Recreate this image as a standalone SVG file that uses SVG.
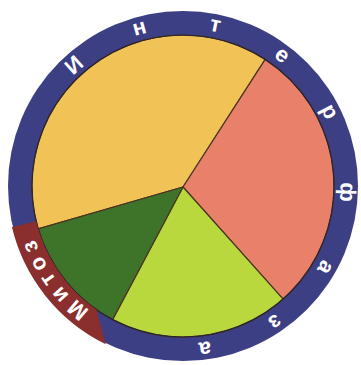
<svg xmlns="http://www.w3.org/2000/svg" width="361" height="365" viewBox="0 0 361 365">
  <style>
    .ring { fill: #3d3f84; }
    .sector { stroke: #4a3522; stroke-width: 1.2; stroke-linejoin: round; }
    .yellow { fill: #f1c255; }
    .salmon { fill: #e9806a; }
    .lgreen { fill: #b8d83e; }
    .dgreen { fill: #3e7429; }
    .band { fill: #8b2e2e; }
    .lt { font-family: "Liberation Sans", Arial, sans-serif; font-weight: bold; font-size: 22px; fill: #ffffff; text-anchor: middle; }
  </style>
  <rect x="0" y="0" width="361" height="365" fill="#ffffff"/>

  <g id="ring">
    <circle class="ring" cx="183" cy="186" r="175"/>
  </g>

  <g id="pie">
    <g id="sector-yellow">
      <path class="sector yellow" d="M 183 187 L 38.2 228.9 A 151 151 0 0 1 265.2 59.4 Z"/>
    </g>
    <g id="sector-salmon">
      <path class="sector salmon" d="M 183 187 L 265.2 59.4 A 151 151 0 0 1 283.1 299.1 Z"/>
    </g>
    <g id="sector-lightgreen">
      <path class="sector lgreen" d="M 183 187 L 283.1 299.1 A 151 151 0 0 1 112.6 319.6 Z"/>
    </g>
    <g id="sector-darkgreen">
      <path class="sector dgreen" d="M 183 187 L 112.6 319.6 A 151 151 0 0 1 38.2 228.9 Z"/>
    </g>
    <circle cx="183" cy="186" r="151" fill="none" stroke="#2a2530" stroke-width="1.2"/>
  </g>

  <g id="mitoz-band">
    <path class="band" d="M 11.9 227.1 A 176 176 0 0 0 105.8 344.2 L 96.4 309.7 A 151 151 0 0 1 36.2 221.2 Z"/>
    <g class="lt">
      <text transform="translate(183,186) rotate(220.3) translate(0,-155.5)">М</text>
      <text transform="translate(183,186) rotate(228.5) translate(0,-157.5)">и</text>
      <text transform="translate(183,186) rotate(235.3) translate(0,-157.5)">т</text>
      <text transform="translate(183,186) rotate(241.6) translate(0,-157.5)">о</text>
      <text transform="translate(183,186) rotate(248.3) translate(0,-157.5)">з</text>
    </g>
  </g>

  <g id="interfaza-label" class="lt">
    <text transform="translate(183,186) rotate(-42) translate(0,-155.5)">И</text>
    <text transform="translate(183,186) rotate(-15.4) translate(0,-157.5)">н</text>
    <text transform="translate(183,186) rotate(11.4) translate(0,-157.5)">т</text>
    <text transform="translate(183,186) rotate(37.2) translate(0,-157.5)">е</text>
    <text transform="translate(183,186) rotate(63.1) translate(0,-157.5)">р</text>
    <text transform="translate(183,186) rotate(92.1) translate(0,-157.5)">ф</text>
    <text transform="translate(183,186) rotate(119.7) translate(0,-157.5)">а</text>
    <text transform="translate(183,186) rotate(145.9) translate(0,-157.5)">з</text>
    <text transform="translate(183,186) rotate(172.3) translate(0,-157.5)">а</text>
  </g>
</svg>
